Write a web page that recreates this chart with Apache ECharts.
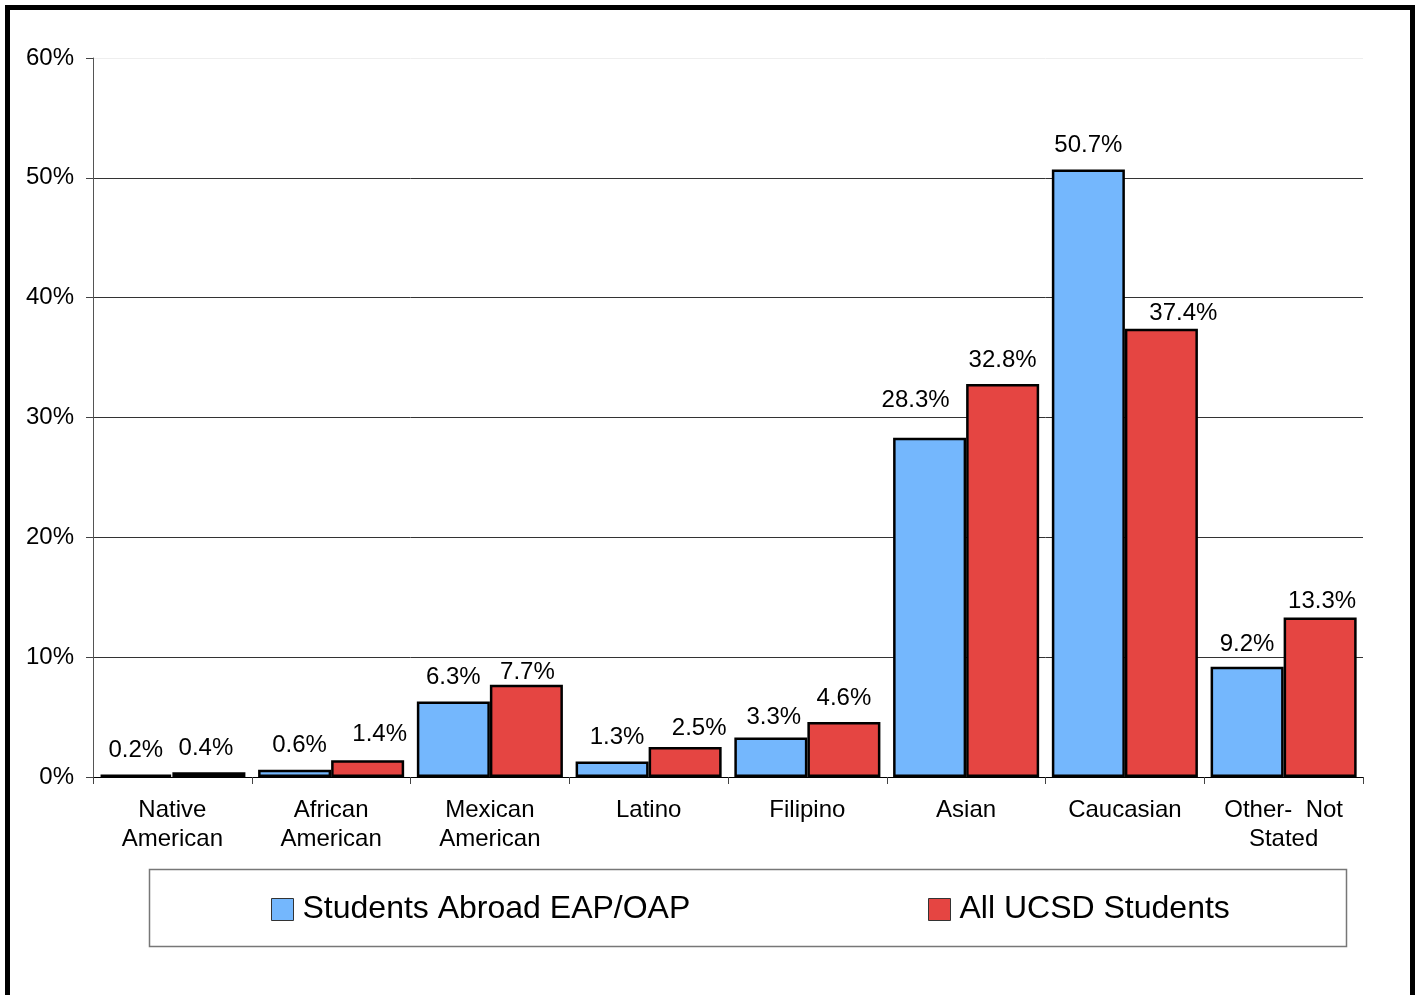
<!DOCTYPE html>
<html>
<head>
<meta charset="utf-8">
<script src="https://cdn.jsdelivr.net/npm/echarts@6/dist/echarts.min.js"></script>
<style>
html,body{margin:0;padding:0;background:#fff;}
#chart{width:1419px;height:995px;}
</style>
</head>
<body>
<div id="chart"></div>
<script>
const categories = ['Native\nAmerican', 'African\nAmerican', 'Mexican\nAmerican', 'Latino', 'Filipino', 'Asian', 'Caucasian', 'Other-  Not\nStated'];
const seriesNames = ['Students Abroad EAP/OAP', 'All UCSD Students'];
const studentsAbroad = [0.2, 0.6, 6.3, 1.3, 3.3, 28.3, 50.7, 9.2];
const allUcsd = [0.4, 1.4, 7.7, 2.5, 4.6, 32.8, 37.4, 13.3];
const yTicks = [0, 10, 20, 30, 40, 50, 60];

// label nudges (style only): [dx, dy] per bar
const nudgeAbroad = [[0,0],[5,0],[0,0],[5,0],[3,4],[-14,-13],[0,0],[0,2]];
const nudgeUcsd = [[-3,0],[12,-2],[1,12],[14,5],[0,0],[0,0],[22,9],[2,8]];

const FONT = "'Liberation Sans', Arial, Helvetica, sans-serif";
const BLUE = '#74B7FD';
const RED = '#E54542';

function mkData(vals, nudges) {
  return vals.map((v, i) => ({
    value: v,
    label: { offset: nudges[i] }
  }));
}

const legendCommon = {
  top: 892, padding: 0,
  itemWidth: 22, itemHeight: 22, itemGap: 9,
  icon: 'rect',
  itemStyle: { borderWidth: 1, borderColor: '#333' },
  textStyle: { fontSize: 32, fontFamily: FONT, color: '#000', lineHeight: 32, padding: [3, 0, 0, 4] }
};

const chart = echarts.init(document.getElementById('chart'), null, {renderer: 'canvas'});
const option = {
  backgroundColor: '#fff',
  animation: false,
  grid: { left: 93, top: 58, width: 1270, height: 719, containLabel: false },
  xAxis: {
    type: 'category',
    data: categories,
    boundaryGap: true,
    axisLine: { show: true, lineStyle: { color: '#000', width: 1 } },
    axisTick: { show: true, length: 7, alignWithLabel: false, lineStyle: { color: '#444' } },
    axisLabel: { color: '#000', fontSize: 24, fontFamily: FONT, margin: 19, lineHeight: 29, interval: 0 }
  },
  yAxis: {
    type: 'value',
    min: yTicks[0],
    max: yTicks[yTicks.length - 1],
    interval: 10,
    axisLine: { show: true, lineStyle: { color: '#555', width: 1 } },
    axisTick: { show: true, length: 7, lineStyle: { color: '#444' } },
    axisLabel: { formatter: '{value}%', color: '#000', fontSize: 24, fontFamily: FONT, margin: 19 },
    splitLine: { show: true, lineStyle: { color: ['#333','#333','#333','#333','#333','#333','#eeeeee'], width: 1 } }
  },
  legend: [
    Object.assign({ data: [seriesNames[0]], left: 271 }, legendCommon),
    Object.assign({ data: [seriesNames[1]], left: 928 }, legendCommon)
  ],
  graphic: [
    { type: 'rect', shape: { x: 7.5, y: 7.5, width: 1405, height: 1010 }, style: { fill: 'none', stroke: '#000', lineWidth: 5 }, z: 100, silent: true },
    { type: 'rect', shape: { x: 149.5, y: 869.5, width: 1197, height: 77 }, style: { fill: 'none', stroke: '#777', lineWidth: 1.5 }, z: 100, silent: true }
  ],
  series: [
    {
      name: seriesNames[0], type: 'bar', data: mkData(studentsAbroad, nudgeAbroad),
      barGap: '0%', barCategoryGap: '8%',
      itemStyle: { color: BLUE, borderColor: '#000', borderWidth: 2.5 },
      label: { show: true, position: 'top', distance: 12, formatter: p => p.value.toFixed(1) + '%', color: '#000', fontSize: 24, fontFamily: FONT }
    },
    {
      name: seriesNames[1], type: 'bar', data: mkData(allUcsd, nudgeUcsd),
      barGap: '0%', barCategoryGap: '8%',
      itemStyle: { color: RED, borderColor: '#000', borderWidth: 2.5 },
      label: { show: true, position: 'top', distance: 12, formatter: p => p.value.toFixed(1) + '%', color: '#000', fontSize: 24, fontFamily: FONT }
    }
  ]
};
chart.setOption(option);
</script>
</body>
</html>
